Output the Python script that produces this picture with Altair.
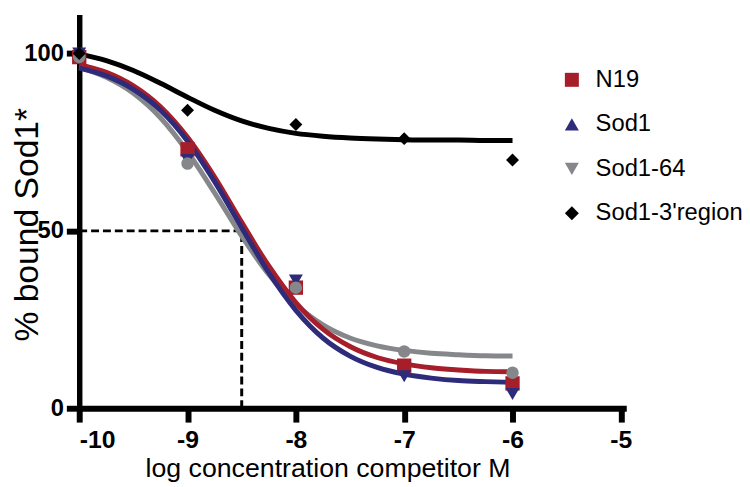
import altair as alt
import pandas as pd

series = ["N19", "Sod1", "Sod1-64", "Sod1-3'region"]
colors = ["#A51E2A", "#2E2B7B", "#86878A", "#000000"]
point_shapes = ["square", "triangle-down", "circle", "diamond"]
legend_shapes = ["square", "triangle-up", "triangle-down", "diamond"]

# measured points
x_pts = [-10, -9, -8, -7, -6]
pts_n19 = [99, 73, 34, 12, 7]
pts_sod1 = [100, 70, 36, 9, 4]
pts_sod164 = [99, 69, 34, 16, 10]
pts_3reg = [100, 84, 80, 76, 70]

# fitted curves
x_curve = [-10, -9.75, -9.5, -9.25, -9, -8.75, -8.5, -8.25, -8,
           -7.75, -7.5, -7.25, -7, -6.75, -6.5, -6.25, -6]
cur_n19 = [96.9, 94.7, 90.9, 85.0, 76.4, 65.2, 52.4, 40.1, 29.8,
           22.3, 17.4, 14.3, 12.5, 11.4, 10.8, 10.4, 10.3]
cur_sod1 = [95.9, 93.7, 89.9, 84.0, 75.3, 63.9, 50.9, 38.2, 27.6,
            19.8, 14.7, 11.5, 9.6, 8.5, 7.8, 7.5, 7.3]
cur_sod164 = [96.1, 93.3, 88.8, 81.9, 72.3, 60.7, 48.5, 37.7, 29.3,
              23.5, 19.8, 17.6, 16.3, 15.5, 15.1, 14.8, 14.7]
cur_3reg = [99.9, 98.0, 95.2, 91.6, 87.7, 84.0, 81.0, 78.9, 77.5,
            76.7, 76.2, 75.9, 75.7, 75.6, 75.6, 75.5, 75.5]

ic50_x = -8.5
half_y = 50

x_ticks = [-10, -9, -8, -7, -6, -5]
y_ticks = [0, 50, 100]

FONT = "Liberation Sans"

curves = {"N19": cur_n19, "Sod1": cur_sod1, "Sod1-64": cur_sod164, "Sod1-3'region": cur_3reg}
points = {"N19": pts_n19, "Sod1": pts_sod1, "Sod1-64": pts_sod164, "Sod1-3'region": pts_3reg}

x_scale = alt.Scale(domain=[-10, -4.95], nice=False, zero=False)
y_scale = alt.Scale(domain=[0, 111], nice=False)

x_axis = alt.Axis(values=x_ticks, labelExpr="'' + datum.value", grid=False, labelFont=FONT,
                  labelFontSize=25, labelFontWeight="bold", labelColor="black", labelPadding=6,
                  tickSize=14, tickWidth=6, tickColor="black", domainWidth=6, domainColor="black",
                  title="log concentration competitor M", titleFont=FONT, titleFontSize=27,
                  titleFontWeight="normal", titleColor="black", titleX=251, titleY=69,
                  titleBaseline="alphabetic", titleAlign="center")
y_axis = alt.Axis(values=y_ticks, labelExpr="'' + datum.value", grid=False, labelFont=FONT,
                  labelFontSize=24, labelFontWeight="bold", labelColor="black", labelPadding=3,
                  tickSize=13, tickWidth=6, tickColor="black", domainWidth=5.5, domainColor="black",
                  title="% bound Sod1*", titleFont=FONT, titleFontSize=34,
                  titleFontWeight="normal", titleColor="black", titleX=-42, titleY=212,
                  titleAngle=270, titleBaseline="alphabetic", titleAlign="center")

layers = []

# dashed guide lines
hline = pd.DataFrame({"x": [-10], "x2": [ic50_x], "y": [half_y]})
vline = pd.DataFrame({"x": [ic50_x], "y": [0], "y2": [half_y]})
layers.append(alt.Chart(hline).mark_rule(color="black", strokeWidth=3, strokeDash=[8, 4]).encode(
    x=alt.X("x:Q", scale=x_scale, axis=x_axis), x2="x2:Q",
    y=alt.Y("y:Q", scale=y_scale, axis=y_axis)))
layers.append(alt.Chart(vline).mark_rule(color="black", strokeWidth=3, strokeDash=[8, 4]).encode(
    x=alt.X("x:Q", scale=x_scale), y=alt.Y("y:Q", scale=y_scale), y2="y2:Q"))

line_order = ["Sod1-64", "N19", "Sod1", "Sod1-3'region"]
for s in line_order:
    i = series.index(s)
    df = pd.DataFrame({"x": x_curve, "y": curves[s]})
    layers.append(alt.Chart(df).mark_line(color=colors[i], strokeWidth=5, interpolate="monotone").encode(
        x=alt.X("x:Q", scale=x_scale), y=alt.Y("y:Q", scale=y_scale)))

sizes = {"square": 210, "triangle-down": 200, "circle": 160, "diamond": 170}
for i, s in enumerate(series):
    df = pd.DataFrame({"x": x_pts, "y": points[s]})
    layers.append(alt.Chart(df).mark_point(filled=True, shape=point_shapes[i], color=colors[i],
                                           size=sizes[point_shapes[i]], opacity=1).encode(
        x=alt.X("x:Q", scale=x_scale), y=alt.Y("y:Q", scale=y_scale)))

# legend carrier
leg_rows = []
for s in series:
    for xv, yv in zip(x_pts, points[s]):
        leg_rows.append({"x": xv, "y": yv, "series": s})
leg_df = pd.DataFrame(leg_rows)
legend = alt.Legend(title=None, orient="none", legendX=486, legendY=54, labelFont=FONT,
                    labelFontSize=24, labelColor="black", labelOffset=12, rowPadding=21,
                    symbolSize=200, symbolOpacity=1, symbolStrokeWidth=0, padding=0,
                    labelLimit=300)
layers.append(alt.Chart(leg_df).mark_point(filled=True, opacity=0).encode(
    x=alt.X("x:Q", scale=x_scale), y=alt.Y("y:Q", scale=y_scale),
    color=alt.Color("series:N", scale=alt.Scale(domain=series, range=colors), legend=legend),
    shape=alt.Shape("series:N", scale=alt.Scale(domain=series, range=legend_shapes), legend=legend)))

chart = alt.layer(*layers).properties(
    width=553, height=398,
    autosize=alt.AutoSizeParams(type="none"),
    padding={"left": 72, "top": 4, "right": 117, "bottom": 75},
    background="white",
).configure_view(stroke=None)

chart.save("out.html", embed_options={"renderer": "svg", "actions": False})
